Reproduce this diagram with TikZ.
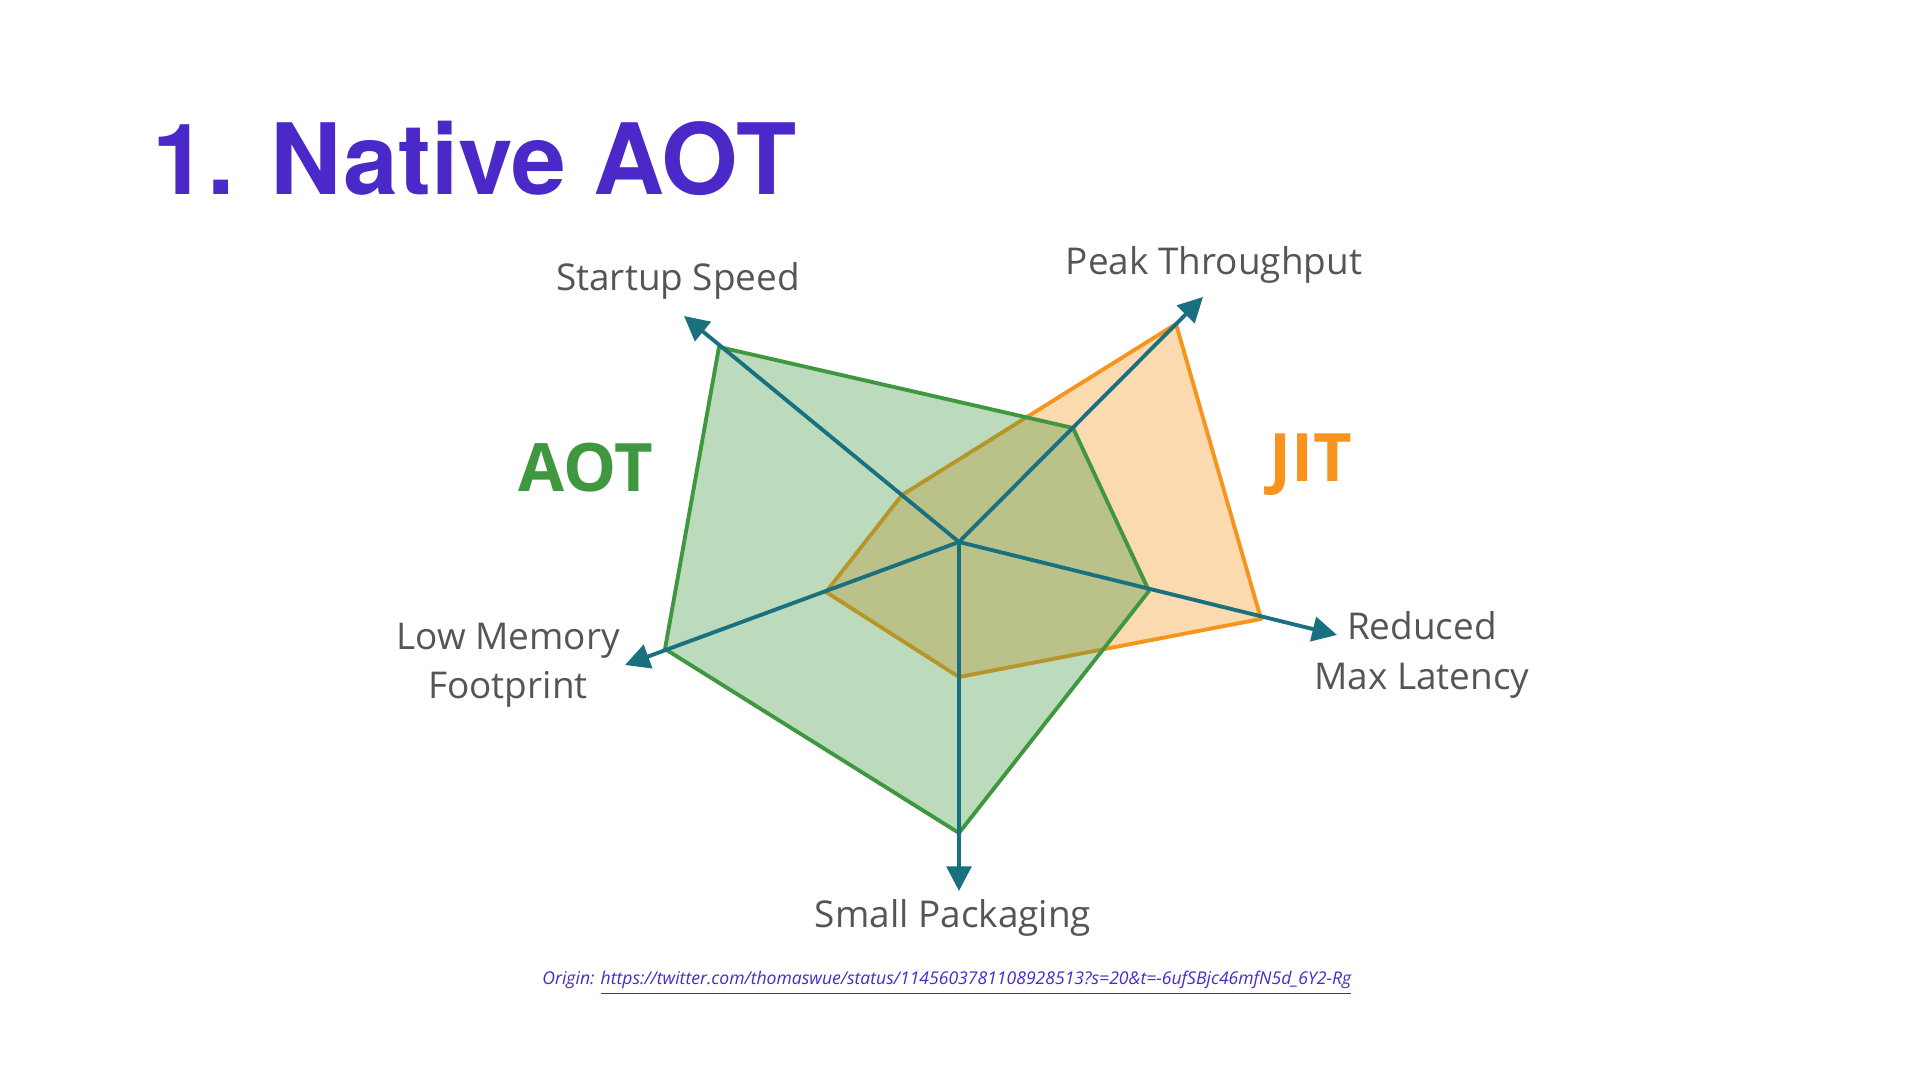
\documentclass[tikz,border=0pt]{standalone}
\usepackage{fontspec}
\setmainfont{Open Sans}
\newfontfamily\titlefont{TeX Gyre Heros}
\usetikzlibrary{positioning, arrows.meta}
\definecolor{titlepurple}{HTML}{4B28C8}
\definecolor{aotgreen}{HTML}{3F9740}
\definecolor{jitorange}{HTML}{F7941D}
\definecolor{axisteal}{HTML}{19707F}
\definecolor{labelgray}{HTML}{555555}

\begin{document}
\begin{tikzpicture}[x=0.01cm, y=-0.01cm,
    axis/.style={draw=axisteal, line width=1.1pt, -{Triangle[length=7pt,width=7pt]}},
    axislabel/.style={text=labelgray, font=\fontsize{10.5}{13}\selectfont, align=center},
    bigtag/.style={font=\fontsize{19}{22}\selectfont\bfseries}]
      \useasboundingbox (0,0) rectangle (1920,1080);
      \node[anchor=west, text=titlepurple, font=\titlefont\fontsize{28}{32}\selectfont\bfseries] (title) at (140,158) {1. Native AOT};
      % axes
      \coordinate (c) at (959,542);
      \coordinate (startup) at (684,316);
      \coordinate (peak) at (1203,297);
      \coordinate (latency) at (1337,635);
      \coordinate (packaging) at (959,891);
      \coordinate (memory) at (625,665);
      % JIT polygon
      \filldraw[fill=jitorange, fill opacity=0.35, draw=jitorange, line width=1.1pt, line join=round]
        (902,495) -- (1176,324) -- (1261,619) -- (959,677) -- (826,592) -- cycle;
      % AOT polygon
      \filldraw[fill=aotgreen, fill opacity=0.35, draw=aotgreen, line width=1.1pt, line join=round]
        (719,347) -- (1073,428) -- (1149,591) -- (959,833) -- (665,649) -- cycle;
      \foreach \a in {startup, peak, latency, packaging, memory}
        \draw[axis] (c) -- (\a);
      \node[axislabel] (startuplbl) at (678,281) {Startup Speed};
      \node[axislabel] (peaklbl) at (1214,265) {Peak Throughput};
      \node[axislabel] (latencylbl) at (1422,655) {Reduced\\[1pt]Max Latency};
      \node[axislabel] (packaginglbl) at (953,918) {Small Packaging};
      \node[axislabel] (memorylbl) at (508,665) {Low Memory\\[1pt]Footprint};
      \node[bigtag, text=aotgreen] (aot) at (586,468) {AOT};
      \node[bigtag, text=jitorange] (jit) at (1311,465) {JIT};
      \node[anchor=west, text=titlepurple, font=\fontsize{5}{6}\selectfont\itshape] (origin) at (530,983)
        {Origin: \underline{https://twitter.com/thomaswue/status/1145603781108928513?s=20\&t=-6ufSBjc46mfN5d\_6Y2-Rg}};
\end{tikzpicture}
\end{document}
